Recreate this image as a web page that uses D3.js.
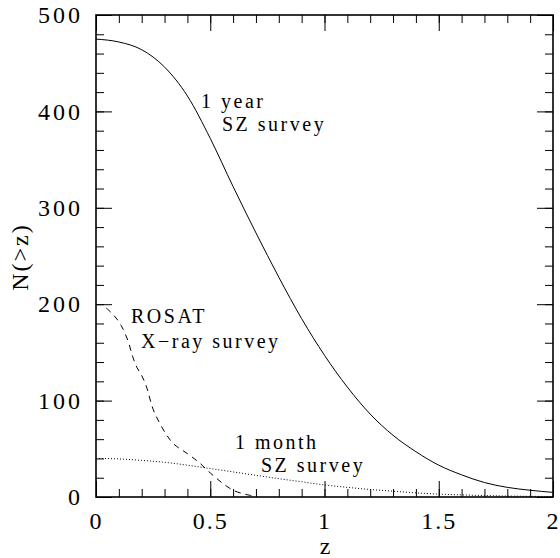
<!DOCTYPE html>
<html>
<head>
<meta charset="utf-8">
<script src="https://cdnjs.cloudflare.com/ajax/libs/d3/7.8.5/d3.min.js"></script>
<style>
  body { margin: 0; background: #fff; }
  .axis path { display: none; }
  .axis line { stroke: #000; stroke-width: 1; }
</style>
</head>
<body>
<div id="chart"></div>
<script>
// 1 year SZ survey (solid)
var zYear = [0, 0.1, 0.2, 0.3, 0.4, 0.5, 0.6, 0.7, 0.8, 0.9, 1.0, 1.1, 1.2, 1.3, 1.4, 1.5, 1.6, 1.7, 1.8, 1.9, 2.0];
var nYear = [475, 472, 464, 446, 416, 372, 322, 274, 228, 185, 147, 114, 86, 64, 47, 33, 23, 15, 10, 7, 4.8];

// 1 month SZ survey (dotted)
var zMonth = [0, 0.1, 0.2, 0.3, 0.4, 0.5, 0.6, 0.7, 0.8, 0.9, 1.0, 1.1, 1.2, 1.3, 1.4, 1.5, 1.6, 1.7, 1.8, 1.9, 2.0];
var nMonth = [40, 39.5, 38, 36, 33, 29.5, 26, 22.5, 19, 15.8, 12.5, 10, 7.8, 6, 4.3, 3, 2.2, 1.5, 1, 0.7, 0.5];

// ROSAT X-ray survey (dashed)
var zRosat = [0.045, 0.08, 0.11, 0.14, 0.16, 0.18, 0.2, 0.22, 0.25, 0.28, 0.31, 0.34, 0.4, 0.45, 0.5, 0.55, 0.6, 0.65, 0.68];
var nRosat = [196, 188, 178, 162, 146, 134, 126, 115, 91, 76, 64, 55, 45, 36, 25, 15, 7, 3, 1.5];

var xMajor = [0, 0.5, 1, 1.5, 2];
var yMajor = [0, 100, 200, 300, 400, 500];

var serif = "'Liberation Serif', 'DejaVu Serif', 'Times New Roman', Times, serif";

var svg = d3.select("#chart").append("svg").attr("width", 560).attr("height", 558),
    margin = {top: 15, right: 7, bottom: 61, left: 96},
    width = 560 - margin.left - margin.right,
    height = 558 - margin.top - margin.bottom,
    g = svg.append("g").attr("transform", "translate(" + margin.left + "," + margin.top + ")");

var x = d3.scaleLinear().domain([0, 2]).range([0, width]);
var y = d3.scaleLinear().domain([0, 500]).range([height, 0]);

var xMinor = d3.range(0, 2.001, 0.1).map(function(d) { return +d.toFixed(1); });
var yMinor = d3.range(0, 501, 20);

// minor ticks on all four sides
g.append("g").attr("class", "axis").attr("transform", "translate(0," + height + ")")
  .call(d3.axisBottom(x).tickValues(xMinor).tickSize(-8).tickSizeOuter(0).tickFormat(""));
g.append("g").attr("class", "axis")
  .call(d3.axisTop(x).tickValues(xMinor).tickSize(-8).tickSizeOuter(0).tickFormat(""));
g.append("g").attr("class", "axis")
  .call(d3.axisLeft(y).tickValues(yMinor).tickSize(-8).tickSizeOuter(0).tickFormat(""));
g.append("g").attr("class", "axis").attr("transform", "translate(" + width + ",0)")
  .call(d3.axisRight(y).tickValues(yMinor).tickSize(-8).tickSizeOuter(0).tickFormat(""));

// major ticks with labels
var xAx = g.append("g").attr("class", "axis").attr("transform", "translate(0," + height + ")")
  .call(d3.axisBottom(x).tickValues(xMajor).tickSize(-16).tickSizeOuter(0).tickPadding(15).tickFormat(d3.format("")));
xAx.attr("font-family", serif).attr("font-size", 24);
xAx.selectAll("text").style("font-family", serif).style("letter-spacing", "2px");
g.append("g").attr("class", "axis")
  .call(d3.axisTop(x).tickValues(xMajor).tickSize(-16).tickSizeOuter(0).tickFormat(""));
var yAx = g.append("g").attr("class", "axis")
  .call(d3.axisLeft(y).tickValues(yMajor).tickSize(-16).tickSizeOuter(0).tickPadding(13));
yAx.attr("font-family", serif).attr("font-size", 24);
yAx.selectAll("text").style("font-family", serif).style("letter-spacing", "3px");
g.append("g").attr("class", "axis").attr("transform", "translate(" + width + ",0)")
  .call(d3.axisRight(y).tickValues(yMajor).tickSize(-16).tickSizeOuter(0).tickFormat(""));

// frame
g.append("rect").attr("width", width).attr("height", height)
  .attr("fill", "none").attr("stroke", "#000").attr("stroke-width", 1.6);

function series(xs, ys) {
  return xs.map(function(d, i) { return {z: d, n: ys[i]}; });
}

var line = d3.line()
  .x(function(d) { return x(d.z); })
  .y(function(d) { return y(d.n); })
  .curve(d3.curveMonotoneX);

g.append("path").datum(series(zYear, nYear))
  .attr("fill", "none").attr("stroke", "#000").attr("stroke-width", 1)
  .attr("d", line);

g.append("path").datum(series(zMonth, nMonth))
  .attr("fill", "none").attr("stroke", "#000").attr("stroke-width", 1)
  .attr("stroke-dasharray", "1,2").attr("d", line);

g.append("path").datum(series(zRosat, nRosat))
  .attr("fill", "none").attr("stroke", "#000").attr("stroke-width", 1)
  .attr("stroke-dasharray", "6,5").attr("d", line.curve(d3.curveCatmullRom));

// curve labels
var labels = [
  {t: "1 year", x: 201, y: 108},
  {t: "SZ survey", x: 222, y: 131},
  {t: "ROSAT", x: 131, y: 323},
  {t: "X\u2212ray survey", x: 141, y: 348},
  {t: "1 month", x: 235, y: 449},
  {t: "SZ survey", x: 261, y: 472}
];
svg.selectAll(".lbl").data(labels).enter().append("text")
  .attr("class", "lbl")
  .attr("x", function(d) { return d.x; })
  .attr("y", function(d) { return d.y; })
  .style("font-family", serif)
  .style("font-size", "20px")
  .style("letter-spacing", "2.5px")
  .text(function(d) { return d.t; });

// axis titles
svg.append("text").attr("x", 325).attr("y", 554).style("text-anchor", "middle")
  .style("font-family", serif).style("font-size", "24px").text("z");
svg.append("text").attr("transform", "translate(28,257) rotate(-90)").style("text-anchor", "middle")
  .style("font-family", serif).style("font-size", "24px").style("letter-spacing", "2px").text("N(>z)");
</script>
</body>
</html>
